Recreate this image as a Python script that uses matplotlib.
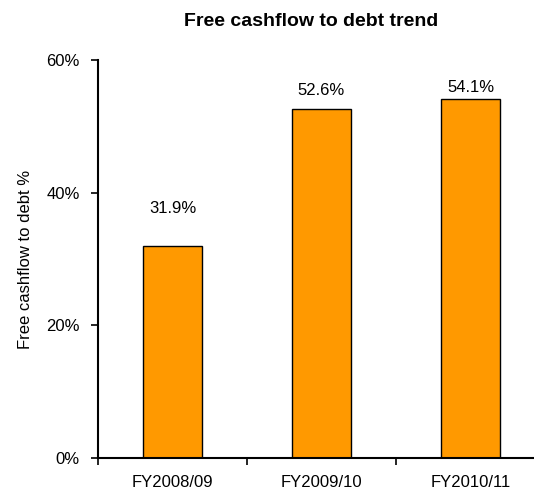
import numpy as np
import matplotlib
matplotlib.use('Agg')
import matplotlib.pyplot as plt
from matplotlib.ticker import FuncFormatter

years = ['FY2008/09', 'FY2009/10', 'FY2010/11']
ratio = [31.9, 52.6, 54.1]
labels = ['31.9%', '52.6%', '54.1%']
label_off = [22, 8, 3]  # points above bar top

plt.rcParams['font.family'] = ['Liberation Sans', 'DejaVu Sans']

fig = plt.figure(figsize=(5.34, 4.91), dpi=100)
ax = fig.add_axes([98/534, 1-458/491, 447/534, 398/491])

x = np.arange(len(years))
ax.bar(x, ratio, width=0.4, color='#FF9900', edgecolor='black', linewidth=1)
for xi, v, t, o in zip(x, ratio, labels, label_off):
    ax.annotate(t, (xi, v), xytext=(0, o), textcoords='offset points',
                ha='center', va='bottom', fontsize=12)

ax.set_xlim(-0.5, 2.5)
ax.set_ylim(0, 60)
ax.set_yticks([0, 20, 40, 60])
ax.yaxis.set_major_formatter(FuncFormatter(lambda v, p: '%d%%' % v))
ax.set_xticks([-0.5, 0.5, 1.5, 2.5])
ax.set_xticklabels([])
ax.set_xticks(x, minor=True)
ax.set_xticklabels(years, minor=True)
ax.tick_params(axis='x', which='minor', length=0, pad=12, labelsize=12)
ax.tick_params(axis='x', which='major', length=5, width=1.2, direction='out')
ax.tick_params(axis='y', length=5, width=1.2, labelsize=12, pad=8)

for s in ['top', 'right']:
    ax.spines[s].set_visible(False)
for s in ['left', 'bottom']:
    ax.spines[s].set_linewidth(1.5)

ax.set_ylabel('Free cashflow to debt %', fontsize=12, labelpad=10)
fig.text(311/534, 1-22/491, 'Free cashflow to debt trend', ha='center', va='center',
         fontsize=14, fontweight='bold')

fig.savefig('out.png', dpi=100)
